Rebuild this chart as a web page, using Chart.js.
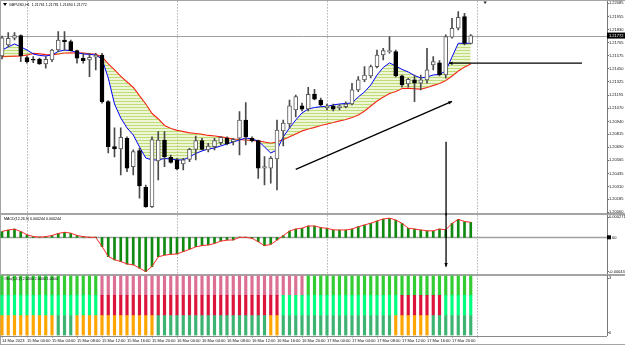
<!DOCTYPE html>
<html>
<head>
<meta charset="utf-8">
<title>GBPUSD,H1</title>
<script src="https://cdn.jsdelivr.net/npm/chart.js@4.4.1/dist/chart.umd.min.js"></script>
<style>
  html, body { margin: 0; padding: 0; background: #fff; }
  #wrap { position: relative; width: 625px; height: 345px; overflow: hidden; background: #fff; }
  #wrap canvas { position: absolute; left: 0; }
  .rule { position: absolute; background: #a4a4a4; }
</style>
</head>
<body>
<div id="wrap">
  <div class="rule" style="left:0;top:0;width:625px;height:1px"></div>
  <div class="rule" style="left:0;top:0;width:1px;height:345px"></div>
  <div class="rule" style="left:0;top:213px;width:625px;height:2px"></div>
  <div class="rule" style="left:0;top:274px;width:625px;height:2px"></div>
  <div class="rule" style="left:0;top:344px;width:625px;height:1px"></div>
  <canvas id="priceChart" width="625" height="217" style="top:-1px"></canvas>
  <canvas id="macdChart" width="625" height="63" style="top:213px"></canvas>
  <canvas id="stripChart" width="625" height="72" style="top:273px"></canvas>
</div>
<script>
// Time axis (one label every 4 H1 bars) and the day separators
const timeLabels = ['14 Mar 2023', '15 Mar 00:00', '15 Mar 04:00', '15 Mar 08:00', '15 Mar 12:00', '15 Mar 16:00',
    '15 Mar 20:00', '16 Mar 00:00', '16 Mar 04:00', '16 Mar 08:00', '16 Mar 12:00', '16 Mar 16:00', '16 Mar 20:00',
    '17 Mar 00:00', '17 Mar 04:00', '17 Mar 08:00', '17 Mar 12:00', '17 Mar 16:00', '17 Mar 20:00'];
const dayBreaks = [4, 28, 52, 76];

// GBPUSD H1 candles
const opens = [1.21574, 1.21681, 1.21746, 1.21771, 1.21558, 1.21542, 1.21545, 1.21497, 1.21536, 1.21632,
    1.21729, 1.21713, 1.21626, 1.21552, 1.21536, 1.21562, 1.21584, 1.21132, 1.20696, 1.20673,
    1.20777, 1.20502, 1.20657, 1.20302, 1.20114, 1.20557, 1.20760, 1.20593, 1.20567, 1.20528,
    1.20573, 1.20670, 1.20754, 1.20664, 1.20696, 1.20734, 1.20777, 1.20744, 1.20777, 1.20954,
    1.20777, 1.20754, 1.20486, 1.20486, 1.20576, 1.20848, 1.20915, 1.21051, 1.21090, 1.21061,
    1.21206, 1.21148, 1.21070, 1.21090, 1.21070, 1.21083, 1.21109, 1.21245, 1.21342, 1.21381,
    1.21471, 1.21584, 1.21616, 1.21616, 1.21381, 1.21303, 1.21342, 1.21310, 1.21342, 1.21487,
    1.21509, 1.21390, 1.21756, 1.21843, 1.21955, 1.21697];
const highs = [1.21768, 1.21800, 1.21800, 1.21778, 1.21574, 1.21568, 1.21555, 1.21568, 1.21639, 1.21810,
    1.21810, 1.21729, 1.21632, 1.21601, 1.21601, 1.21601, 1.21601, 1.21143, 1.20877, 1.20877,
    1.20792, 1.20664, 1.20683, 1.20324, 1.20792, 1.20841, 1.20841, 1.20615, 1.20583, 1.20583,
    1.20680, 1.20799, 1.20777, 1.20728, 1.20777, 1.20792, 1.20792, 1.20777, 1.21035, 1.21122,
    1.20792, 1.20760, 1.20599, 1.20599, 1.20954, 1.20954, 1.21148, 1.21196, 1.21119, 1.21271,
    1.21252, 1.21167, 1.21109, 1.21109, 1.21100, 1.21129, 1.21310, 1.21374, 1.21471, 1.21487,
    1.21632, 1.21649, 1.21761, 1.21632, 1.21390, 1.21358, 1.21390, 1.21390, 1.21649, 1.21568,
    1.21529, 1.21778, 1.21940, 1.22004, 1.21988, 1.21781];
const lows = [1.21545, 1.21664, 1.21729, 1.21519, 1.21504, 1.21509, 1.21492, 1.21455, 1.21519, 1.21616,
    1.21632, 1.21623, 1.21504, 1.21504, 1.21374, 1.21439, 1.21116, 1.20634, 1.20596, 1.20421,
    1.20453, 1.20421, 1.20196, 1.20108, 1.20106, 1.20373, 1.20502, 1.20535, 1.20470, 1.20470,
    1.20550, 1.20567, 1.20664, 1.20644, 1.20664, 1.20712, 1.20712, 1.20712, 1.20615, 1.20712,
    1.20741, 1.20389, 1.20324, 1.20341, 1.20276, 1.20702, 1.20877, 1.20983, 1.21041, 1.21041,
    1.21148, 1.21090, 1.21051, 1.21041, 1.21051, 1.21070, 1.21100, 1.21228, 1.21325, 1.21361,
    1.21458, 1.21536, 1.21601, 1.21371, 1.21271, 1.21271, 1.21132, 1.21245, 1.21310, 1.21439,
    1.21381, 1.21358, 1.21746, 1.21826, 1.21681, 1.21690];
const closes = [1.21749, 1.21746, 1.21771, 1.21574, 1.21519, 1.21533, 1.21497, 1.21542, 1.21632, 1.21729,
    1.21713, 1.21626, 1.21552, 1.21529, 1.21562, 1.21584, 1.21132, 1.20696, 1.20673, 1.20787,
    1.20486, 1.20647, 1.20315, 1.20114, 1.20763, 1.20760, 1.20599, 1.20544, 1.20479, 1.20567,
    1.20670, 1.20754, 1.20670, 1.20702, 1.20754, 1.20787, 1.20722, 1.20767, 1.20954, 1.20792,
    1.20754, 1.20486, 1.20502, 1.20583, 1.20857, 1.20925, 1.21090, 1.21180, 1.21058, 1.21203,
    1.21155, 1.21100, 1.21090, 1.21058, 1.21090, 1.21109, 1.21245, 1.21342, 1.21390, 1.21471,
    1.21584, 1.21626, 1.21626, 1.21381, 1.21293, 1.21349, 1.21310, 1.21342, 1.21439, 1.21519,
    1.21390, 1.21761, 1.21843, 1.21949, 1.21697, 1.21772];

// Moving-average ribbon: fast (blue) and slow (red) edges
const fastMa = [1.21632, 1.21662, 1.21691, 1.21662, 1.21632, 1.21594, 1.21579, 1.21574, 1.21584, 1.21618,
    1.21632, 1.21626, 1.21608, 1.21594, 1.21589, 1.21584, 1.21545, 1.21361, 1.21109, 1.20974,
    1.20877, 1.20809, 1.20693, 1.20586, 1.20567, 1.20567, 1.20581, 1.20576, 1.20567, 1.20567,
    1.20596, 1.20630, 1.20654, 1.20673, 1.20683, 1.20702, 1.20722, 1.20741, 1.20760, 1.20780,
    1.20770, 1.20751, 1.20693, 1.20634, 1.20664, 1.20790, 1.20877, 1.20954, 1.21022, 1.21061,
    1.21075, 1.21083, 1.21085, 1.21100, 1.21109, 1.21114, 1.21119, 1.21177, 1.21226, 1.21293,
    1.21390, 1.21463, 1.21507, 1.21478, 1.21444, 1.21419, 1.21385, 1.21361, 1.21371, 1.21390,
    1.21395, 1.21429, 1.21565, 1.21697, 1.21697, 1.21697];
const slowMa = [1.21568, 1.21570, 1.21572, 1.21574, 1.21584, 1.21599, 1.21594, 1.21587, 1.21584, 1.21594,
    1.21603, 1.21605, 1.21603, 1.21601, 1.21596, 1.21591, 1.21565, 1.21497, 1.21439, 1.21376,
    1.21322, 1.21269, 1.21187, 1.21109, 1.21017, 1.20964, 1.20901, 1.20872, 1.20853, 1.20841,
    1.20830, 1.20823, 1.20814, 1.20804, 1.20799, 1.20790, 1.20780, 1.20770, 1.20765, 1.20760,
    1.20756, 1.20751, 1.20741, 1.20728, 1.20741, 1.20765, 1.20792, 1.20819, 1.20848, 1.20867,
    1.20882, 1.20901, 1.20915, 1.20930, 1.20945, 1.20959, 1.20978, 1.21003, 1.21041, 1.21090,
    1.21138, 1.21177, 1.21211, 1.21230, 1.21259, 1.21261, 1.21257, 1.21253, 1.21269, 1.21289,
    1.21308, 1.21337, 1.21381, 1.21429, 1.21468, 1.21497];

const priceTicks = [1.22085, 1.21955, 1.21830, 1.21705, 1.21575, 1.21450, 1.21325, 1.21195, 1.21070,
    1.20940, 1.20815, 1.20690, 1.20565, 1.20435, 1.20310, 1.20185, 1.20060];
const bidPrice = 1.21772;
const priceTitle = 'GBPUSD,H1  1.21761 1.21781 1.21690 1.21772';

// MACD sub-window
const macdHist = [0.000068, 0.000088, 0.000100, 0.000068, 0.000028, 0.000008, 0.000002, 0.000008, 0.000020, 0.000048,
    0.000060, 0.000048, 0.000020, 0.000008, 0.000002, 0.000002, -0.000112, -0.000232, -0.000272, -0.000292,
    -0.000324, -0.000332, -0.000372, -0.000412, -0.000352, -0.000232, -0.000212, -0.000204, -0.000200, -0.000172,
    -0.000144, -0.000112, -0.000100, -0.000092, -0.000072, -0.000044, -0.000032, -0.000032, 0.000004, 0.000002,
    -0.000012, -0.000052, -0.000100, -0.000084, -0.000032, 0.000020, 0.000076, 0.000100, 0.000108, 0.000136,
    0.000136, 0.000116, 0.000108, 0.000088, 0.000088, 0.000088, 0.000100, 0.000128, 0.000148, 0.000168,
    0.000196, 0.000220, 0.000228, 0.000208, 0.000168, 0.000108, 0.000100, 0.000088, 0.000076, 0.000076,
    0.000100, 0.000088, 0.000168, 0.000216, 0.000188, 0.000180];
const macdSignal = [0.000070, 0.000088, 0.000098, 0.000070, 0.000030, 0.000010, 0.000002, 0.000008, 0.000022, 0.000046,
    0.000060, 0.000050, 0.000022, 0.000008, 0.000000, 0.000000, -0.000110, -0.000230, -0.000270, -0.000290,
    -0.000320, -0.000330, -0.000370, -0.000412, -0.000350, -0.000235, -0.000215, -0.000205, -0.000200, -0.000172,
    -0.000145, -0.000115, -0.000100, -0.000092, -0.000075, -0.000046, -0.000034, -0.000032, 0.000000, 0.000000,
    -0.000012, -0.000054, -0.000100, -0.000086, -0.000034, 0.000020, 0.000074, 0.000100, 0.000110, 0.000136,
    0.000136, 0.000116, 0.000108, 0.000090, 0.000088, 0.000088, 0.000100, 0.000126, 0.000148, 0.000170,
    0.000196, 0.000220, 0.000230, 0.000208, 0.000168, 0.000110, 0.000100, 0.000088, 0.000078, 0.000078,
    0.000100, 0.000090, 0.000166, 0.000216, 0.000190, 0.000180];
const macdTicks = [0.00024, -0.000413];
const macdTickText = ['0.000271', '-0.000434'];
const macdTitle = 'MACD(12,26,9) 0.000244 0.000244';

// Three-row signal strip (1 = bullish colour, 0 = bearish colour)
const stripTop = [1,1,1,1,1,1,1,1,1,1, 1,1,1,1,1,1,0,0,0,0, 0,0,0,0,0,0,0,0,0,0, 0,0,0,0,0,0,0,0,0,0,
    0,0,0,0,0,0,0,0,0,1, 1,1,1,1,1,1,1,1,1,1, 1,1,1,1,1,1,1,1,1,1, 1,1,1,1,1,1];
const stripMid = [1,1,1,1,1,1,1,1,1,1, 1,1,1,1,1,1,0,0,0,0, 0,0,0,0,0,0,0,0,0,0, 0,0,0,0,0,0,0,0,0,0,
    0,0,0,0,0,1,1,1,1,1, 1,1,1,1,1,1,1,1,1,1, 1,1,1,1,0,0,0,0,0,0, 0,1,1,1,1,1];
const stripLow = [0,0,0,0,0,0,0,0,0,1, 1,1,0,0,0,0,0,0,0,0, 0,0,0,0,0,1,1,1,1,1, 1,1,1,1,1,1,1,1,1,1,
    1,1,1,0,0,1,1,1,1,1, 1,1,1,1,1,1,1,1,1,1, 1,1,1,0,0,0,0,0,0,1, 1,1,1,1,1,1];
const stripTitle = '#Sto(5,3,3) 2.0000 2.0000 1.0000';

// Hand-drawn arrows: [bar, price] end points
const flatArrow = [[92.8, 1.21504], [71.5, 1.21504]];
const trendArrow = [[47.0, 1.20475], [72.0, 1.21134]];
const dropArrow = { bar: 71.05, fromPrice: 1.20744, toMacd: -0.000353 };
const shiftMarkBar = 77.3;

const X_MIN = -0.32, X_MAX = 96.8;
const bars = opens.map((_, i) => i);

Chart.defaults.font.family = "'Liberation Sans', Arial, sans-serif";
Chart.defaults.font.size = 4;
Chart.defaults.color = '#111';

function dayGridAxis() {
    return {
        type: 'linear', min: X_MIN, max: X_MAX, offset: false,
        afterBuildTicks: s => { s.ticks = dayBreaks.map(v => ({ value: v })); },
        afterFit: s => { s.height = 0; },
        ticks: { display: false },
        grid: { offset: false, color: '#8c8c8c', drawTicks: false },
        border: { display: false, dash: [1, 2] }
    };
}

function drawArrow(ctx, x1, y1, x2, y2, head) {
    ctx.beginPath();
    ctx.moveTo(x1, y1);
    ctx.lineTo(x2, y2);
    ctx.stroke();
    if (!head) return;
    const ang = Math.atan2(y2 - y1, x2 - x1);
    ctx.beginPath();
    ctx.moveTo(x2, y2);
    ctx.lineTo(x2 - head * Math.cos(ang - 0.45), y2 - head * Math.sin(ang - 0.45));
    ctx.lineTo(x2 - head * Math.cos(ang + 0.45), y2 - head * Math.sin(ang + 0.45));
    ctx.closePath();
    ctx.fill();
}

// thin stripes so the ribbon reads as a bundle of averages rather than a solid band
function ribbonPattern() {
    const c = document.createElement('canvas');
    c.width = 3; c.height = 3;
    const g = c.getContext('2d');
    g.fillStyle = 'rgba(205, 228, 140, 0.35)';
    g.fillRect(0, 0, 3, 3);
    g.fillStyle = 'rgba(150, 200, 40, 0.55)';
    g.fillRect(0, 0, 3, 1);
    return g.createPattern(c, 'repeat');
}

const baseOptions = {
    responsive: false,
    animation: false,
    devicePixelRatio: 1,
    events: [],
    layout: { padding: 0 },
    plugins: { legend: { display: false }, tooltip: { enabled: false } }
};

// ---------- price window ----------
const priceOverlay = {
    id: 'priceOverlay',
    beforeDatasetsDraw(chart) {
        const { ctx, chartArea: a, scales: { y } } = chart;
        const py = Math.round(y.getPixelForValue(bidPrice)) + 0.5;
        ctx.save();
        ctx.strokeStyle = '#a0a0a0';
        ctx.lineWidth = 1;
        ctx.beginPath();
        ctx.moveTo(a.left, py);
        ctx.lineTo(a.right, py);
        ctx.stroke();
        ctx.restore();
    },
    afterDatasetsDraw(chart) {
        const { ctx, chartArea: a, scales: { x, y } } = chart;
        ctx.save();
        ctx.strokeStyle = '#000';
        ctx.fillStyle = '#000';
        ctx.lineWidth = 1.3;
        drawArrow(ctx, x.getPixelForValue(flatArrow[0][0]), y.getPixelForValue(flatArrow[0][1]),
            x.getPixelForValue(flatArrow[1][0]), y.getPixelForValue(flatArrow[1][1]), 4);
        drawArrow(ctx, x.getPixelForValue(trendArrow[0][0]), y.getPixelForValue(trendArrow[0][1]),
            x.getPixelForValue(trendArrow[1][0]), y.getPixelForValue(trendArrow[1][1]), 4);
        const vx = x.getPixelForValue(dropArrow.bar);
        drawArrow(ctx, vx, y.getPixelForValue(dropArrow.fromPrice), vx, a.bottom + 2, 0);
        ctx.restore();
    },
    afterDraw(chart) {
        const { ctx, chartArea: a, scales: { x, y } } = chart;
        ctx.save();
        // title and its marker
        ctx.fillStyle = '#000';
        ctx.beginPath();
        ctx.moveTo(3, 4); ctx.lineTo(7, 4); ctx.lineTo(5, 7); ctx.closePath(); ctx.fill();
        ctx.font = "3.6px 'Liberation Sans', Arial, sans-serif";
        ctx.textBaseline = 'middle';
        ctx.fillText(priceTitle, 9, 5.8);
        // chart shift marker
        const sx = x.getPixelForValue(shiftMarkBar);
        ctx.fillStyle = '#333';
        ctx.beginPath();
        ctx.moveTo(sx - 1.8, a.top); ctx.lineTo(sx + 1.8, a.top); ctx.lineTo(sx, a.top + 2.5); ctx.closePath(); ctx.fill();
        // bid price box on the axis
        const py = y.getPixelForValue(bidPrice);
        ctx.fillStyle = '#000';
        ctx.fillRect(a.right, py - 3, 18, 6);
        ctx.fillStyle = '#fff';
        ctx.font = "4px 'Liberation Sans', Arial, sans-serif";
        ctx.fillText(bidPrice.toFixed(5), a.right + 2, py + 0.2);
        ctx.restore();
    }
};

new Chart(document.getElementById('priceChart'), {
    type: 'bar',
    data: {
        datasets: [
            {
                type: 'line',
                data: bars.map(i => ({ x: i, y: fastMa[i] })),
                borderColor: '#0000ff', borderWidth: 1, pointRadius: 0,
                fill: '+1', backgroundColor: ribbonPattern(), order: 3
            },
            {
                type: 'line',
                data: bars.map(i => ({ x: i, y: slowMa[i] })),
                borderColor: '#ff0000', borderWidth: 1.2, pointRadius: 0, fill: false, order: 3
            },
            {
                data: bars.map(i => ({ x: i, y: [lows[i], highs[i]] })),
                backgroundColor: '#4a4a4a', barThickness: 1, grouped: false, order: 2
            },
            {
                data: bars.map(i => ({ x: i, y: [opens[i], closes[i]] })),
                backgroundColor: bars.map(i => closes[i] >= opens[i] ? '#ffffff' : '#000000'),
                borderColor: bars.map(i => closes[i] >= opens[i] ? '#5a5a5a' : '#000000'),
                borderWidth: 1, borderSkipped: false, barThickness: 4, minBarLength: 1,
                grouped: false, order: 1
            }
        ]
    },
    options: {
        ...baseOptions,
        scales: {
            x: dayGridAxis(),
            y: {
                position: 'right', min: 1.20047, max: 1.22103, beginAtZero: false,
                afterBuildTicks: s => { s.ticks = priceTicks.map(v => ({ value: v })); },
                afterFit: s => { s.width = 18; },
                ticks: { padding: 0, callback: v => v.toFixed(5) },
                grid: { drawOnChartArea: false, tickLength: 2, color: '#666' },
                border: { color: '#777' }
            }
        }
    },
    plugins: [priceOverlay]
});

// ---------- MACD window ----------
const macdOverlay = {
    id: 'macdOverlay',
    beforeDatasetsDraw(chart) {
        const { ctx, chartArea: a, scales: { y } } = chart;
        const zy = Math.round(y.getPixelForValue(0)) + 0.5;
        ctx.save();
        ctx.strokeStyle = '#a0a0a0';
        ctx.lineWidth = 1.5;
        ctx.beginPath();
        ctx.moveTo(a.left, zy);
        ctx.lineTo(a.right, zy);
        ctx.stroke();
        ctx.restore();
    },
    afterDatasetsDraw(chart) {
        const { ctx, chartArea: a, scales: { x, y } } = chart;
        ctx.save();
        ctx.strokeStyle = '#000';
        ctx.fillStyle = '#000';
        ctx.lineWidth = 1.3;
        const vx = x.getPixelForValue(dropArrow.bar);
        drawArrow(ctx, vx, a.top - 3, vx, y.getPixelForValue(dropArrow.toMacd), 4);
        ctx.restore();
    },
    afterDraw(chart) {
        const { ctx, chartArea: a, scales: { y } } = chart;
        ctx.save();
        ctx.font = "3.6px 'Liberation Sans', Arial, sans-serif";
        ctx.textBaseline = 'middle';
        ctx.fillStyle = '#000';
        ctx.fillText(macdTitle, 4, a.top + 4);
        const zy = y.getPixelForValue(0);
        ctx.fillRect(a.right, zy - 2, 4, 4);
        ctx.font = "4px 'Liberation Sans', Arial, sans-serif";
        ctx.fillText('00', a.right + 5, zy + 0.2);
        ctx.restore();
    }
};

new Chart(document.getElementById('macdChart'), {
    type: 'bar',
    data: {
        datasets: [
            {
                data: bars.map(i => ({ x: i, y: macdHist[i] })),
                backgroundColor: '#108a10', barThickness: 2, order: 2
            },
            {
                type: 'line',
                data: bars.map(i => ({ x: i, y: macdSignal[i] })),
                borderColor: '#ff2a2a', borderWidth: 1, pointRadius: 0, fill: false, order: 1
            }
        ]
    },
    options: {
        ...baseOptions,
        scales: {
            x: dayGridAxis(),
            y: {
                position: 'right', min: -0.000436, max: 0.000263, beginAtZero: false,
                afterBuildTicks: s => { s.ticks = macdTicks.map(v => ({ value: v })); },
                afterFit: s => { s.width = 18; },
                ticks: { padding: 0, callback: (v, i) => macdTickText[i] },
                grid: { drawOnChartArea: false, tickLength: 2, color: '#666' },
                border: { color: '#777' }
            }
        }
    },
    plugins: [macdOverlay]
});

// ---------- signal strip + time axis ----------
const stripRows = [stripLow, stripMid, stripTop];
const rowColours = [['#ffa500', '#3cb371'], ['#dc143c', '#00ff7f'], ['#db7093', '#32cd32']];
const timeTicks = timeLabels.map((_, k) => k * 4).concat([76]);

const stripOverlay = {
    id: 'stripOverlay',
    afterDraw(chart) {
        const { ctx, chartArea: a } = chart;
        ctx.save();
        ctx.strokeStyle = '#8a8a8a';
        ctx.lineWidth = 1;
        ctx.beginPath();
        ctx.moveTo(a.left, Math.round(a.bottom) + 0.5);
        ctx.lineTo(a.right, Math.round(a.bottom) + 0.5);
        ctx.stroke();
        ctx.font = "3.6px 'Liberation Sans', Arial, sans-serif";
        ctx.textBaseline = 'middle';
        ctx.fillStyle = '#000';
        ctx.fillText(stripTitle, 4, a.top + 4);
        ctx.restore();
    }
};

new Chart(document.getElementById('stripChart'), {
    type: 'bar',
    data: {
        datasets: stripRows.map((row, r) => ({
            data: bars.map(i => ({ x: i, y: 1 })),
            backgroundColor: row.map(s => rowColours[r][s]),
            barThickness: 2.5
        }))
    },
    options: {
        ...baseOptions,
        scales: {
            x: {
                type: 'linear', min: X_MIN, max: X_MAX, offset: false, stacked: true,
                afterBuildTicks: s => { s.ticks = timeTicks.map(v => ({ value: v })); },
                afterFit: s => { s.height = 9.5; },
                ticks: {
                    autoSkip: false, maxRotation: 0, align: 'start', padding: 1,
                    callback: (v, i) => timeLabels[i] || ''
                },
                grid: {
                    offset: false, tickLength: 2, tickColor: '#777',
                    color: ctx => (ctx.tick && dayBreaks.includes(ctx.tick.value)) ? '#8c8c8c' : 'rgba(0,0,0,0)'
                },
                border: { display: false, dash: [1, 2] }
            },
            y: {
                position: 'right', min: 0, max: 3, stacked: true, beginAtZero: false,
                afterBuildTicks: s => { s.ticks = [2.87, 0.125].map(v => ({ value: v })); },
                afterFit: s => { s.width = 18; },
                ticks: { padding: 0, callback: (v, i) => ['3', '0'][i] },
                grid: { drawOnChartArea: false, tickLength: 2, color: '#666' },
                border: { color: '#777' }
            }
        }
    },
    plugins: [stripOverlay]
});
</script>
</body>
</html>
